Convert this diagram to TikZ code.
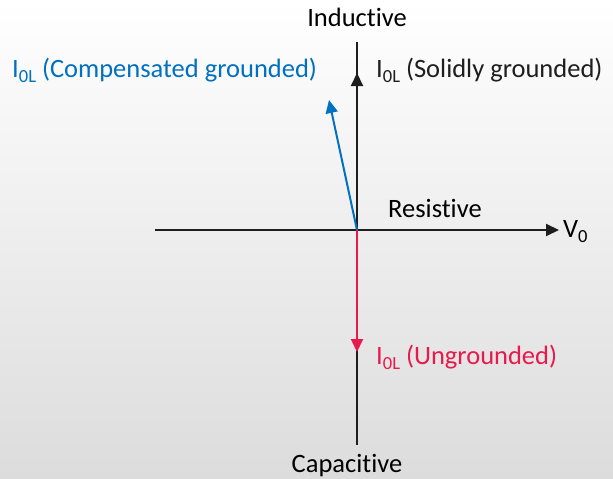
\documentclass[tikz,border=0pt]{standalone}
\usepackage{fontspec}
\setmainfont{Carlito}[Ligatures={NoCommon}]
\usetikzlibrary{arrows.meta}
\definecolor{bgbot}{RGB}{220,220,220}
\definecolor{ablue}{RGB}{0,112,192}
\definecolor{ared}{RGB}{232,25,75}
\definecolor{axis}{RGB}{30,30,30}
\newcommand{\subl}[1]{\raisebox{-0.22em}{\fontsize{18.5}{18.5}\selectfont #1}}
\tikzset{
  axisline/.style={draw=axis, line width=2pt},
  vec/.style={line width=2pt, -{Triangle[length=13pt,width=12pt]}},
  lbl/.style={inner sep=0pt, font=\fontsize{26.5}{30}\selectfont},
}
\begin{document}
\begin{tikzpicture}[x=1pt,y=-1pt]
\shade[top color=white, bottom color=bgbot] (0,0) rectangle (613,479);
\useasboundingbox (0,0) rectangle (613,479);
\coordinate (O) at (357,230);
\coordinate (top) at (357,42);
\coordinate (bot) at (357,445);
\coordinate (left) at (155,230);
\coordinate (sol) at (357,73);
\coordinate (comp) at (329,100);
\coordinate (ung) at (357,352);
\coordinate (vtip) at (559,230);
% axes
\draw[axisline] (O) -- (top);
\draw[axisline] (O) -- (bot);
\draw[axisline] (left) -- (O);
\draw[vec, axis] (O) -- (vtip);
\draw[vec, axis] (O) -- (sol);
\draw[vec, ablue] (O) -- (comp);
\draw[vec, ared] (O) -- (ung);
% labels
\node[lbl, anchor=base] (ind) at (357,26) {Inductive};
\node[lbl, anchor=base] (cap) at (347,472) {Capacitive};
\node[lbl, anchor=base west] (res) at (388,217) {Resistive};
\node[lbl, anchor=base west] (v0) at (563,237) {V\subl{0}};
\node[lbl, anchor=base west, text=axis] (lsol) at (376,77) {I\subl{0L} (Solidly grounded)};
\node[lbl, anchor=base west, text=ablue] (lcomp) at (12,77) {I\subl{0L} (Compensated grounded)};
\node[lbl, anchor=base west, text=ared] (lung) at (376,364) {I\subl{0L} (Ungrounded)};
\end{tikzpicture}
\end{document}
